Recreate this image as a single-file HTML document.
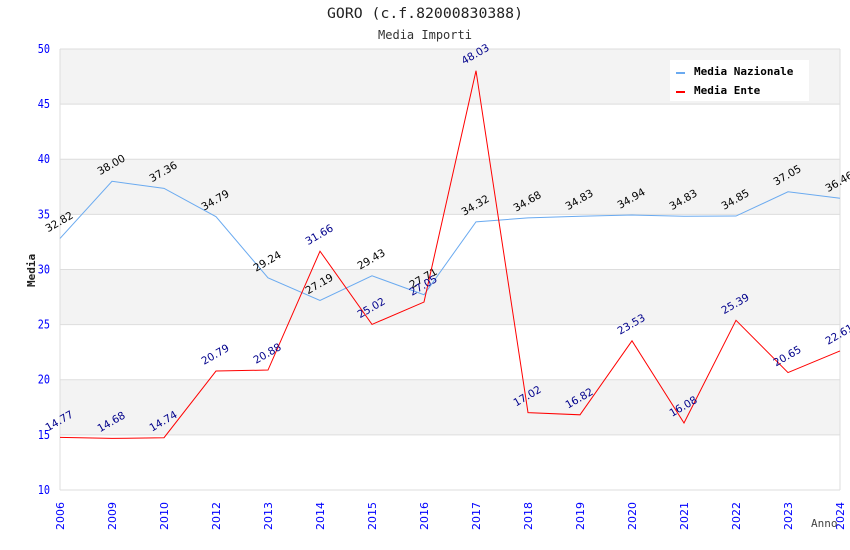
<!DOCTYPE html>
<html><head><meta charset="utf-8"><style>
body{margin:0;background:#fff;}
svg{display:block;font-family:"DejaVu Sans Mono","Liberation Mono",monospace;}
</style></head><body>
<svg id="c" width="850" height="550"></svg>
<script>
const years=["2006","2009","2010","2012","2013","2014","2015","2016","2017","2018","2019","2020","2021","2022","2023","2024"];
const nazionale=[32.82,38.00,37.36,34.79,29.24,27.19,29.43,27.71,34.32,34.68,34.83,34.94,34.83,34.85,37.05,36.46];
const ente=[14.77,14.68,14.74,20.79,20.88,31.66,25.02,27.05,48.03,17.02,16.82,23.53,16.08,25.39,20.65,22.61];
const yTicks=[10,15,20,25,30,35,40,45,50];
const NS="http://www.w3.org/2000/svg";
const svg=document.getElementById('c');
const L=60,R=840,T=49,B=490,yMin=10,yMax=50;
function x(i){return L+i*(R-L)/(years.length-1);}
function y(v){return B-(v-yMin)/(yMax-yMin)*(B-T);}
function el(t,a,p){const e=document.createElementNS(NS,t);for(const k in a)e.setAttribute(k,a[k]);(p||svg).appendChild(e);return e;}
for(let i=0;i<yTicks.length-1;i++){
  if(i%2===1){const r=el('rect',{x:L,y:y(yTicks[i+1]),width:R-L,height:y(yTicks[i])-y(yTicks[i+1]),fill:'#f3f3f3'});
  
  }
}
yTicks.forEach(v=>{
  const g=el('line',{x1:L,x2:R,y1:y(v),y2:y(v),stroke:'#ddd','stroke-width':1});
  
  
  const t=el('text',{x:L-10,y:y(v)+4,'text-anchor':'end','font-size':12,fill:'#00f',transform:`translate(${L-10},0) scale(0.85,1) translate(${-(L-10)},0)`});
  t.textContent=v;
  
  
});
el('line',{x1:L,x2:L,y1:T,y2:B,stroke:'#ddd'});
el('line',{x1:R,x2:R,y1:T,y2:B,stroke:'#ddd'});
years.forEach((yr,i)=>{
  const t=el('text',{x:0,y:0,transform:`translate(${x(i)+4},${530}) rotate(-90)`,'font-size':11,fill:'#00f','font-family':'DejaVu Sans, sans-serif'});
  t.textContent=yr;
  
  
});
function series(vals,color,lbl,name){
  const p=el('polyline',{points:vals.map((v,i)=>x(i)+','+y(v)).join(' '),fill:'none',stroke:color,'stroke-width':1});
  
  
  vals.forEach((v,i)=>{
    const t=el('text',{x:0,y:0,transform:`translate(${x(i)-12},${y(v)-6}) rotate(-30)`,'font-size':10.5,fill:lbl,'font-family':'DejaVu Sans, sans-serif'});
    t.textContent=v.toFixed(2);
    
    
  });
}
series(nazionale,'#6aaaf0','#000','media-nazionale');
series(ente,'#f00','#00008b','media-ente');
</script>
<svg style="position:absolute;left:0;top:0" width="850" height="550">
<text x="425" y="18" text-anchor="middle" font-size="14" fill="#222" font-family="DejaVu Sans Mono, monospace" textLength="196" lengthAdjust="spacingAndGlyphs">GORO (c.f.82000830388)</text>
<text x="425" y="39" text-anchor="middle" font-size="12" fill="#333" font-family="DejaVu Sans Mono, monospace">Media Importi</text>
<text x="0" y="0" transform="translate(35,287) rotate(-90)" font-size="11" font-weight="bold" fill="#222" font-family="DejaVu Sans Mono, monospace">Media</text>
<text x="811" y="527" font-size="11" fill="#444" font-family="DejaVu Sans Mono, monospace">Anno</text>
<g>
<rect x="670" y="60" width="139" height="41" fill="#fff"/>
<rect x="676" y="72" width="9" height="2" fill="#6aaaf0"/>
<text x="694" y="75" font-size="11" font-weight="bold" fill="#000" font-family="DejaVu Sans Mono, monospace">Media Nazionale</text>
<rect x="676" y="91" width="9" height="2" fill="#f00"/>
<text x="694" y="94" font-size="11" font-weight="bold" fill="#000" font-family="DejaVu Sans Mono, monospace">Media Ente</text>
</g>
</svg>
</body></html>
